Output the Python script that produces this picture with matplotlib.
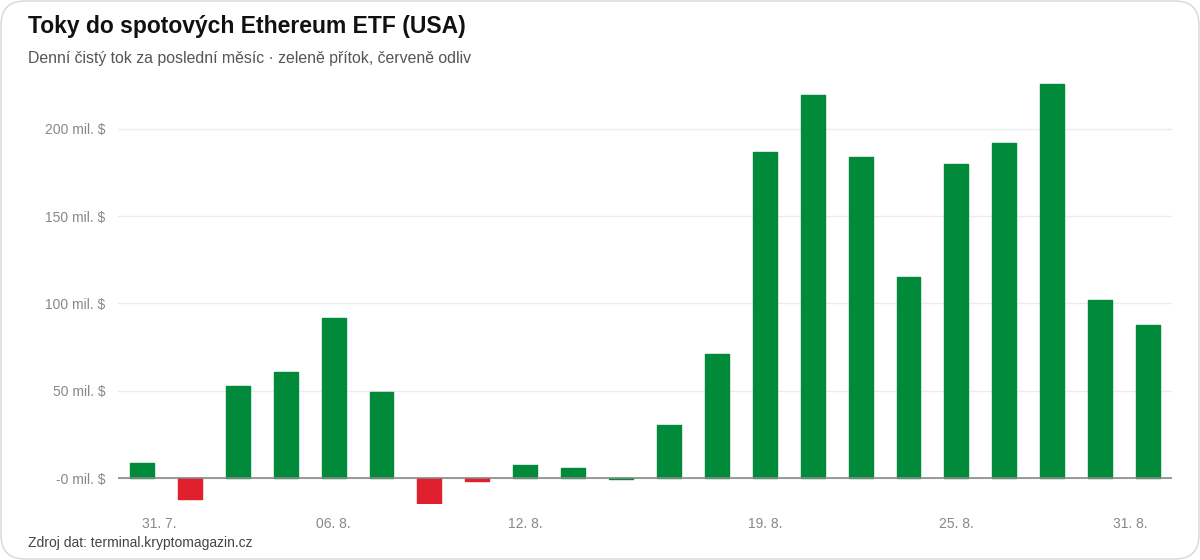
import numpy as np
import matplotlib
matplotlib.use("Agg")
import matplotlib.pyplot as plt
from matplotlib.patches import FancyBboxPatch

plt.rcParams['font.family'] = ['Liberation Sans', 'DejaVu Sans']

# daily net flow, mil. USD (31.7. - 29.8.)
days = ["31. 7.", "01. 8.", "04. 8.", "05. 8.", "06. 8.", "07. 8.", "08. 8.", "11. 8.",
        "12. 8.", "13. 8.", "14. 8.", "15. 8.", "18. 8.", "19. 8.", "20. 8.", "21. 8.",
        "22. 8.", "25. 8.", "26. 8.", "27. 8.", "28. 8.", "29. 8."]
flows = [8.7, -12.0, 52.7, 60.7, 91.6, 49.3, -14.3, -1.7,
         7.3, 5.7, -0.4, 30.6, 71.0, 186.7, 219.4, 183.8,
         115.1, 179.8, 191.9, 225.7, 101.9, 87.6]
tick_idx = [0, 4, 8, 13, 17, 21]
tick_labels = ["31. 7.", "06. 8.", "12. 8.", "19. 8.", "25. 8.", "31. 8."]
y_ticks = [0, 50, 100, 150, 200]

GREEN = "#008a39"
RED = "#e0202f"

W, H = 1200, 560
fig = plt.figure(figsize=(W / 100, H / 100), dpi=100)

# card background
card = FancyBboxPatch((1 / W, 1 / H), 1 - 2 / W, 1 - 2 / H,
                      boxstyle="round,pad=0,rounding_size=0.02",
                      transform=fig.transFigure, facecolor="white",
                      edgecolor="#dddddd", linewidth=1.2, mutation_aspect=W / H,
                      zorder=-10)
fig.patches.append(card)

# axes placed in pixel coords
x0, x1 = 118, 1172
ytop, ybot = 76.4, 504.2
ax = fig.add_axes([x0 / W, (H - ybot) / H, (x1 - x0) / W, (ybot - ytop) / H])
ax.set_facecolor("none")
ax.set_zorder(5)

x = np.arange(len(flows))
vals = np.array(flows)
colors = [GREEN if v > -1 else RED for v in vals]
ax.bar(x, vals, width=0.5, color=colors, edgecolor=colors, linewidth=1,
       joinstyle="round", zorder=3)

ax.set_xlim(-0.5, len(flows) - 0.5)
ax.set_ylim(-15, 230)

ax.set_yticks(y_ticks)
ax.set_yticklabels(["-0 mil. $"] + [f"{v} mil. $" for v in y_ticks[1:]])
ax.yaxis.grid(True, color="#ececec", linewidth=1, zorder=0)
ax.axhline(0, color="#888888", linewidth=1.2, zorder=4)

# x labels; first / last pulled inward like in the source chart
ax.set_xticks([])
shift = {0: 17, len(tick_idx) - 1: -18}
for k, (i, lab) in enumerate(zip(tick_idx, tick_labels)):
    ax.annotate(lab, xy=(i, 0), xycoords=("data", "axes fraction"),
                xytext=(shift.get(k, 0) * 0.72, -14.5), textcoords="offset points",
                ha="center", va="center", fontsize=10, color="#888888")

ax.tick_params(axis="both", length=0, labelcolor="#888888", labelsize=10)
ax.tick_params(axis="y", pad=9)
for s in ax.spines.values():
    s.set_visible(False)

fig.text(28 / W, 1 - 26 / H, "Toky do spotových Ethereum ETF (USA)",
         fontsize=16.5, fontweight="bold", color="#111111", va="center")
fig.text(28 / W, 1 - 58 / H, "Denní čistý tok za poslední měsíc · zeleně přítok, červeně odliv",
         fontsize=11.4, color="#555555", va="center")
fig.text(28 / W, 1 - 543 / H, "Zdroj dat: terminal.kryptomagazin.cz",
         fontsize=10, color="#444444", va="center")

fig.savefig("out.png", dpi=100)
